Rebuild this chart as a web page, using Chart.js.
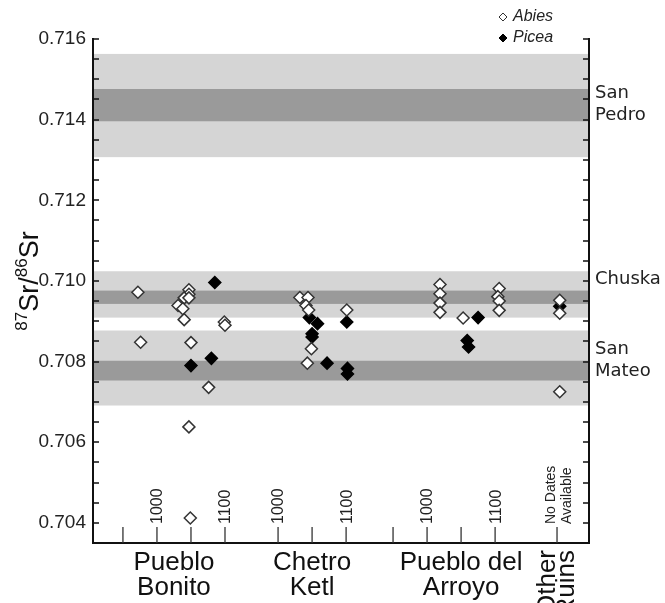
<!DOCTYPE html>
<html><head><meta charset="utf-8">
<script src="https://cdn.jsdelivr.net/npm/chart.js@4.4.0/dist/chart.umd.min.js"></script>
<style>html,body{margin:0;padding:0;background:#fff}</style>
</head><body>
<canvas id="c" width="665" height="603"></canvas>
<script>
// ---------- DATA ----------
const siteLabelLines = [['Pueblo','Bonito'],['Chetro','Ketl'],['Pueblo del','Arroyo'],['Other','Ruins']];
const yearTicks = [[950,1000,1050,1100],[1000,1050,1100],[950,1000,1050,1100]];
const labeledYears = [1000,1100];
const noDatesLabel = ['No Dates','Available'];
const yTickLabels = ['0.704','0.706','0.708','0.710','0.712','0.714','0.716'];

const bonitoAbiesYear = [972, 976, 1047, 1047, 1040, 1047, 1031, 1038, 1040, 1050, 1076, 1047, 1049, 1099, 1100];
const bonitoAbiesSr   = [0.70972, 0.70848, 0.70978, 0.70967, 0.70958, 0.70958, 0.70939, 0.70931, 0.70904, 0.70847, 0.70736, 0.70638, 0.70412, 0.70898, 0.70890];
const bonitoPiceaYear = [1085, 1050, 1080];
const bonitoPiceaSr   = [0.70996, 0.70790, 0.70808];
const chetroAbiesYear = [1032, 1044, 1041, 1045, 1101, 1049, 1043];
const chetroAbiesSr   = [0.70959, 0.70959, 0.70939, 0.70928, 0.70928, 0.70832, 0.70796];
const chetroPiceaYear = [1046, 1058, 1101, 1050, 1050, 1072, 1102, 1102];
const chetroPiceaSr   = [0.70909, 0.70894, 0.70898, 0.70869, 0.70861, 0.70796, 0.70783, 0.70769];
const arroyoAbiesYear = [1019, 1019, 1019, 1019, 1053, 1106, 1104, 1106, 1106];
const arroyoAbiesSr   = [0.70991, 0.70968, 0.70945, 0.70922, 0.70908, 0.70981, 0.70961, 0.70950, 0.70927];
const arroyoPiceaYear = [1075, 1059, 1061];
const arroyoPiceaSr   = [0.70909, 0.70852, 0.70836];
const otherAbiesSr    = [0.70952, 0.70920, 0.70725];
const otherPiceaSr    = [0.70937];

const bandNames     = [['San','Pedro'],['Chuska'],['San','Mateo']];
const bandLightLow  = [0.71307, 0.70909, 0.70691];
const bandLightHigh = [0.71563, 0.71024, 0.70877];
const bandDarkLow   = [0.71396, 0.70943, 0.70753];
const bandDarkHigh  = [0.71476, 0.70976, 0.70802];

// ---------- LAYOUT ----------
const siteOrigin = [0, 178, 397];     // x-units where each site's year 1000 sits
const OTHER_TICK_X = 588, OTHER_POINT_X = 592;
const X_MIN = -94, X_MAX = 635, Y_MIN = 0.7035, Y_MAX = 0.716;
const siteLabelX = [25, 228, 447];
const bandLabelY = [0.71438, 0.71005, 0.70803];
const LIGHT = '#d5d5d5', DARK = '#9a9a9a';
const FONT = '"Liberation Sans", Arial, sans-serif';

function pts(years, srs, site){ return srs.map((v,i)=>({x: siteOrigin[site] + years[i] - 1000, y: v})); }
function otherPts(srs){ return srs.map(v=>({x: OTHER_POINT_X, y: v})); }

const abiesData = [].concat(pts(bonitoAbiesYear,bonitoAbiesSr,0), pts(chetroAbiesYear,chetroAbiesSr,1), pts(arroyoAbiesYear,arroyoAbiesSr,2), otherPts(otherAbiesSr));
const piceaData = [].concat(pts(bonitoPiceaYear,bonitoPiceaSr,0), pts(chetroPiceaYear,chetroPiceaSr,1), pts(arroyoPiceaYear,arroyoPiceaSr,2), otherPts(otherPiceaSr));

const decor = {
  id: 'decor',
  beforeDraw(chart){
    const {ctx, chartArea:a, scales:{y}} = chart;
    ctx.save();
    for (let i=0;i<bandNames.length;i++){
      let t = y.getPixelForValue(bandLightHigh[i]), b = y.getPixelForValue(bandLightLow[i]);
      ctx.fillStyle = LIGHT; ctx.fillRect(a.left, t, a.right-a.left, b-t);
      t = y.getPixelForValue(bandDarkHigh[i]); b = y.getPixelForValue(bandDarkLow[i]);
      ctx.fillStyle = DARK; ctx.fillRect(a.left, t, a.right-a.left, b-t);
    }
    ctx.restore();
  },
  afterDraw(chart){
    const {ctx, chartArea:a, scales:{x,y}} = chart;
    ctx.save();
    // inner ticks on left and right axes
    ctx.strokeStyle = '#111'; ctx.lineWidth = 1.6;
    y.ticks.forEach(t=>{
      const py = Math.round(y.getPixelForValue(t.value));
      if (py > a.bottom - 2) return;
      ctx.beginPath();
      ctx.moveTo(a.left, py); ctx.lineTo(a.left+6, py);
      ctx.moveTo(a.right-6, py); ctx.lineTo(a.right, py);
      ctx.stroke();
    });
    // x ticks
    ctx.strokeStyle = '#333'; ctx.lineWidth = 1.3;
    const tickX = [];
    yearTicks.forEach((ys,i)=>ys.forEach(yr=>tickX.push(x.getPixelForValue(siteOrigin[i]+yr-1000))));
    tickX.push(x.getPixelForValue(OTHER_TICK_X));
    tickX.forEach(px=>{ ctx.beginPath(); ctx.moveTo(px, a.bottom); ctx.lineTo(px, a.bottom-16); ctx.stroke(); });
    // year labels (rotated)
    ctx.fillStyle = '#222';
    ctx.font = '16px ' + FONT;
    ctx.textAlign = 'left'; ctx.textBaseline = 'middle';
    yearTicks.forEach((ys,i)=>ys.forEach(yr=>{
      if (!labeledYears.includes(yr)) return;
      const px = x.getPixelForValue(siteOrigin[i]+yr-1000);
      ctx.save(); ctx.translate(px, a.bottom-19); ctx.rotate(-Math.PI/2); ctx.fillText(String(yr),0,1); ctx.restore();
    }));
    ctx.font = '14px ' + FONT;
    const ox = x.getPixelForValue(OTHER_TICK_X);
    [ -6, 10 ].forEach((dx,k)=>{
      ctx.save(); ctx.translate(ox+dx, a.bottom-19); ctx.rotate(-Math.PI/2); ctx.fillText(noDatesLabel[k],0,0); ctx.restore();
    });
    // site labels
    ctx.fillStyle = '#111';
    ctx.font = '26px ' + FONT;
    ctx.textAlign = 'center'; ctx.textBaseline = 'middle';
    siteLabelX.forEach((ux,i)=>{
      const px = x.getPixelForValue(ux);
      ctx.fillText(siteLabelLines[i][0], px, 563);
      ctx.fillText(siteLabelLines[i][1], px, 588);
    });
    ctx.textAlign = 'right';
    [[-9,0],[10,1]].forEach(([dx,k])=>{
      ctx.save(); ctx.translate(ox+dx, 550); ctx.rotate(-Math.PI/2); ctx.fillText(siteLabelLines[3][k],0,0); ctx.restore();
    });
    // band labels
    ctx.fillStyle = '#222';
    ctx.font = '18px "DejaVu Sans", sans-serif';
    ctx.textAlign = 'left'; ctx.textBaseline = 'middle';
    bandNames.forEach((lines,i)=>{
      const cy = y.getPixelForValue(bandLabelY[i]);
      const lh = 22;
      lines.forEach((s,k)=>ctx.fillText(s, a.right+6, cy + (k - (lines.length-1)/2)*lh));
    });
    // y title with superscripts
    ctx.save();
    ctx.translate(29, 281); ctx.rotate(-Math.PI/2);
    ctx.fillStyle = '#111'; ctx.textBaseline = 'alphabetic'; ctx.textAlign = 'left';
    const big = '27px ' + FONT, small = '17px ' + FONT;
    const parts = [['87',small,-11],['Sr/',big,0],['86',small,-11],['Sr',big,0]];
    let total = 0;
    parts.forEach(p=>{ ctx.font = p[1]; total += ctx.measureText(p[0]).width; });
    let cx = -total/2;
    parts.forEach(p=>{ ctx.font = p[1]; ctx.fillText(p[0], cx, 9 + p[2]); cx += ctx.measureText(p[0]).width; });
    ctx.restore();
    // legend
    const lx = 503;
    [['Abies','#fff','#333',17],['Picea','#000','#000',38]].forEach(([name,bg,bc,ly])=>{
      ctx.fillStyle = bg; ctx.strokeStyle = bc; ctx.lineWidth = 1;
      Chart.helpers.drawPoint(ctx, {pointStyle:'rectRot', radius:4, borderWidth:1, rotation:0}, lx, ly);
      ctx.fillStyle = '#222'; ctx.font = 'italic 16px ' + FONT; ctx.textAlign='left'; ctx.textBaseline='middle';
      ctx.fillText(name, lx+10, ly);
    });
    ctx.restore();
  }
};

new Chart(document.getElementById('c'), {
  type: 'scatter',
  data: { datasets: [
    { label:'Abies', data: abiesData, pointStyle:'rectRot', pointRadius:6, backgroundColor:'#fff', borderColor:'#333', borderWidth:1.5 },
    { label:'Picea', data: piceaData, pointStyle:'rectRot', pointRadius:6, backgroundColor:'#000', borderColor:'#000', borderWidth:1.5 }
  ]},
  options: {
    responsive:false, animation:false, events:[],
    layout:{ padding:{ top:39, left:0, right:0, bottom:0 } },
    plugins:{ legend:{display:false}, tooltip:{enabled:false} },
    scales:{
      x:{ type:'linear', position:'bottom', min:X_MIN, max:X_MAX,
          ticks:{display:false}, grid:{display:false},
          border:{display:true, color:'#111', width:2},
          afterFit(s){ s.height = 60; } },
      y:{ type:'linear', position:'left', min:Y_MIN, max:Y_MAX,
          ticks:{ stepSize:0.0005, autoSkip:false, padding:7, color:'#222',
                  font:{family:'"Liberation Sans", Arial, sans-serif', size:19},
                  callback(v){ const k = Math.round(v*10000); return k % 20 === 0 ? yTickLabels[(k-7040)/20] : ''; } },
          grid:{ drawOnChartArea:false, drawTicks:false },
          border:{display:true, color:'#111', width:2},
          afterFit(s){ s.width = 93; } },
      y2:{ type:'linear', position:'right', min:Y_MIN, max:Y_MAX,
          ticks:{display:false}, grid:{display:false},
          border:{display:true, color:'#111', width:2},
          afterFit(s){ s.width = 76; } }
    }
  },
  plugins:[decor]
});
</script>
</body></html>
